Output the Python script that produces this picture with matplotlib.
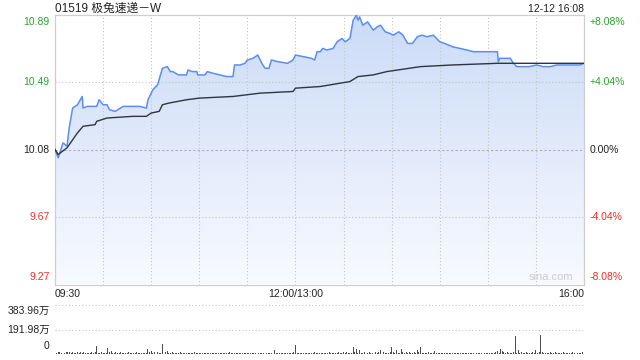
import numpy as np
import matplotlib
matplotlib.use('Agg')
import matplotlib.pyplot as plt
from matplotlib.colors import LinearSegmentedColormap

plt.rcParams['font.family'] = ['Liberation Sans', 'Noto Sans CJK SC', 'DejaVu Sans']

# --- data (minutes after 09:30, lunch break removed; 330 = 16:00) ---
title = '01519 极兔速递－W'
stamp = '12-12 16:08'
prev_close = 10.08
price_t = [0, 2, 5, 7.5, 9, 11, 12.5, 14, 17, 17.5, 20, 26, 27.5, 30, 32.5, 34, 37.5, 42.5, 48.5,
           53, 57, 58, 61, 64, 67, 70, 72, 73.5, 77, 82, 83, 85.5, 88.5, 89, 93.5, 95, 98.5, 103,
           107, 111, 112, 115.5, 118.5, 120, 123.5, 126.5, 129, 131, 133.5, 135, 139, 145, 148.5,
           150, 155, 160, 162, 163.5, 165.5, 167, 169.5, 173.5, 176, 179, 181, 184, 186, 188, 189,
           190, 192, 195, 198.5, 201, 203, 206, 209, 211, 214.5, 217, 220, 223, 226, 229, 232, 236,
           238, 240, 243, 248, 257, 261, 265, 269.5, 274.5, 276, 276.5, 277.5, 281, 284, 286, 288,
           292, 296, 300.5, 304.5, 309, 313, 315, 323, 327.5, 330]
price = [10.08, 10.03, 10.12, 10.10, 10.22, 10.33, 10.34, 10.35, 10.40, 10.33, 10.34, 10.34, 10.38,
         10.35, 10.35, 10.32, 10.31, 10.34, 10.34, 10.34, 10.33, 10.38, 10.44, 10.47, 10.57, 10.58,
         10.55, 10.55, 10.53, 10.53, 10.56, 10.55, 10.55, 10.53, 10.53, 10.55, 10.54, 10.53, 10.52,
         10.52, 10.59, 10.59, 10.60, 10.62, 10.63, 10.65, 10.60, 10.57, 10.57, 10.62, 10.61, 10.60,
         10.62, 10.65, 10.64, 10.63, 10.62, 10.67, 10.67, 10.69, 10.68, 10.69, 10.73, 10.75, 10.73,
         10.75, 10.86, 10.89, 10.86, 10.88, 10.83, 10.85, 10.80, 10.82, 10.83, 10.79, 10.78, 10.77,
         10.79, 10.77, 10.72, 10.72, 10.76, 10.77, 10.76, 10.77, 10.75, 10.73, 10.72, 10.70, 10.68,
         10.67, 10.67, 10.67, 10.67, 10.67, 10.61, 10.63, 10.63, 10.63, 10.60, 10.58, 10.58, 10.58,
         10.59, 10.58, 10.58, 10.59, 10.59, 10.59, 10.59, 10.60]
avg_t = [0, 2, 7.5, 14, 17.5, 25, 26, 32.5, 48.5, 57, 60, 65, 67, 71, 82, 90, 111, 128, 148.5, 150,
         165.5, 184, 189, 198.5, 207, 228, 248, 276, 330]
avg = [10.08, 10.05, 10.09, 10.18, 10.22, 10.23, 10.25, 10.27, 10.28, 10.28, 10.30, 10.31, 10.35,
       10.36, 10.38, 10.39, 10.40, 10.42, 10.43, 10.45, 10.46, 10.49, 10.52, 10.53, 10.55, 10.58,
       10.59, 10.60, 10.60]
# volume per minute, in 万 shares
volume = [18, 10, 12, 14, 9, 15, 11, 13, 16, 12, 10, 14, 9, 11, 13, 8, 12, 10, 15, 9, 11, 8, 10, 12, 9, 14, 60, 10, 8, 12,
          9, 11, 8, 47, 12, 20, 10, 9, 14, 8, 10, 12, 7, 9, 11, 8, 13, 9, 7, 10, 8, 12, 9, 6, 10, 8, 11, 9, 42, 12,
          25, 10, 18, 9, 12, 8, 11, 81, 30, 12, 22, 10, 9, 14, 8, 11, 7, 9, 12, 8, 10, 6, 9, 11, 7, 10, 8, 12, 6, 9,
          8, 10, 6, 9, 7, 11, 8, 6, 10, 7, 9, 5, 8, 6, 10, 7, 9, 6, 8, 12, 7, 9, 6, 8, 10, 7, 5, 9, 6, 8,
          7, 9, 6, 10, 8, 5, 9, 7, 11, 6, 8, 10, 7, 9, 6, 8, 12, 31, 7, 9, 6, 10, 8, 7, 11, 9, 6, 10, 8, 12,
          68, 9, 7, 10, 6, 8, 11, 7, 9, 6, 10, 8, 12, 7, 9, 6, 11, 8, 10, 7, 9, 12, 8, 10, 7, 11, 9, 13, 8, 10,
          12, 9, 14, 10, 8, 11, 52, 13, 37, 9, 30, 11, 8, 12, 10, 9, 14, 8, 11, 10, 13, 9, 12, 34, 10, 14, 9, 11, 8, 13,
          52, 12, 10, 30, 11, 9, 39, 13, 10, 12, 9, 14, 11, 10, 13, 9, 34, 12, 52, 10, 8, 11, 9, 12, 8, 10, 7, 26, 9, 8,
          7, 9, 6, 8, 10, 7, 9, 6, 8, 7, 10, 6, 9, 7, 8, 6, 9, 7, 10, 6, 8, 7, 9, 6, 8, 7, 9, 6, 8, 10,
          7, 9, 8, 6, 10, 12, 20, 9, 42, 20, 14, 10, 12, 9, 11, 8, 13, 138, 10, 29, 9, 12, 8, 10, 14, 9, 11, 8, 12, 10,
          29, 9, 12, 151, 14, 10, 8, 11, 9, 13, 10, 8, 12, 9, 11, 8, 10, 12, 9, 11, 8, 10, 9, 12, 8, 11, 9, 10, 8, 12,
          384]
vol_max = 383.96
pct_levels = [0.0808, 0.0404, 0.0, -0.0404, -0.0808]

green = '#29a629'
red = '#f0302a'
grey_txt = '#222222'

ylo = prev_close * (1 - 0.0808)
yhi = prev_close * (1 + 0.0808)

fig = plt.figure(figsize=(6.4, 3.6), dpi=100)
ax = fig.add_axes([55 / 640, 1 - 284.5 / 360, 529 / 640, 270 / 360])
axv = fig.add_axes([55 / 640, 1 - 354 / 360, 529 / 640, 49 / 360])

# gradient area under the price line
poly = ax.fill_between(price_t, price, ylo, facecolor='none', edgecolor='none')
cmap = LinearSegmentedColormap.from_list('g', ['#f8faff', '#cbdbf7'])
grad = np.linspace(0, 1, 256).reshape(-1, 1)
im = ax.imshow(grad, extent=[0, 330, ylo, yhi], origin='lower', aspect='auto', cmap=cmap, zorder=1)
im.set_clip_path(poly.get_paths()[0], transform=ax.transData)

ax.plot(price_t, price, color='#5a8ef0', lw=1.1, zorder=3)
ax.plot(avg_t, avg, color='#2f3540', lw=1.0, zorder=3)

ax.set_xlim(0, 330)
ax.set_ylim(ylo, yhi)
ax.set_xticks([])
ax.set_yticks([])
for s in ax.spines.values():
    s.set_color('#cfcfcf')
    s.set_linewidth(0.9)

for x in range(30, 330, 30):
    ax.axvline(x, color='#c4c4c4', lw=0.8, ls=(0, (1, 2)), zorder=2)
for p in pct_levels[1:-1]:
    lv = prev_close * (1 + p)
    if p == 0:
        ax.axhline(lv, color='#b0b0b0', lw=0.8, ls=(0, (2, 2)), zorder=2)
    else:
        ax.axhline(lv, color='#c4c4c4', lw=0.8, ls=(0, (1, 2)), zorder=2)

# axis labels
for p in pct_levels:
    lv = prev_close * (1 + p)
    col = green if p > 0 else (red if p < 0 else grey_txt)
    va = 'top' if p == pct_levels[0] else ('bottom' if p == pct_levels[-1] else 'center')
    off = -2 if va == 'top' else (2 if va == 'bottom' else 0)
    ax.annotate(f'{lv:.2f}', (0, lv), xycoords=('axes fraction', 'data'), xytext=(-4, off),
                textcoords='offset points', ha='right', va=va, fontsize=7.5, color=col)
    lab = '0.00%' if p == 0 else f'{p * 100:+.2f}%'
    ax.annotate(lab, (1, lv), xycoords=('axes fraction', 'data'), xytext=(4, off),
                textcoords='offset points', ha='left', va=va, fontsize=7.5, color=col)

ax.text(0, -0.018, '09:30', transform=ax.transAxes, ha='left', va='top', fontsize=7.5, color=grey_txt)
ax.text(150 / 330, -0.018, '12:00/13:00', transform=ax.transAxes, ha='center', va='top', fontsize=7.5, color=grey_txt)
ax.text(1, -0.018, '16:00', transform=ax.transAxes, ha='right', va='top', fontsize=7.5, color=grey_txt)
ax.text(0.979, 0.008, 'sina.com', transform=ax.transAxes, ha='right', va='bottom', fontsize=8, color='#cccccc')
ax.text(0, 1.011, title, transform=ax.transAxes, ha='left', va='baseline', fontsize=8.5, color=grey_txt)
ax.text(1, 1.011, stamp, transform=ax.transAxes, ha='right', va='baseline', fontsize=7.5, color=grey_txt)

# volume panel
axv.bar(np.arange(len(volume)), volume, width=0.6, color='#4d4d4d', zorder=3)
axv.set_xlim(0, 330)
axv.set_ylim(0, vol_max)
axv.set_xticks([])
axv.set_yticks([])
for s in axv.spines.values():
    s.set_visible(False)
for lv in [vol_max, vol_max / 2]:
    axv.axhline(lv, color='#c4c4c4', lw=0.8, ls=(0, (1, 2)), zorder=1, clip_on=False)
axv.axhline(0, color='#d0d0d0', lw=0.8, ls=(0, (1, 2)), zorder=1)
axv.annotate(f'{vol_max:.2f}万', (0, vol_max), xycoords=('axes fraction', 'data'), xytext=(-4, -1),
             textcoords='offset points', ha='right', va='top', fontsize=7.5, color=grey_txt)
axv.annotate(f'{vol_max / 2:.2f}万', (0, vol_max / 2), xycoords=('axes fraction', 'data'), xytext=(-4, 0),
             textcoords='offset points', ha='right', va='center', fontsize=7.5, color=grey_txt)
axv.annotate('0', (0, 0), xycoords=('axes fraction', 'data'), xytext=(-4, 2),
             textcoords='offset points', ha='right', va='bottom', fontsize=7.5, color=grey_txt)

fig.savefig('out.png', dpi=100)
